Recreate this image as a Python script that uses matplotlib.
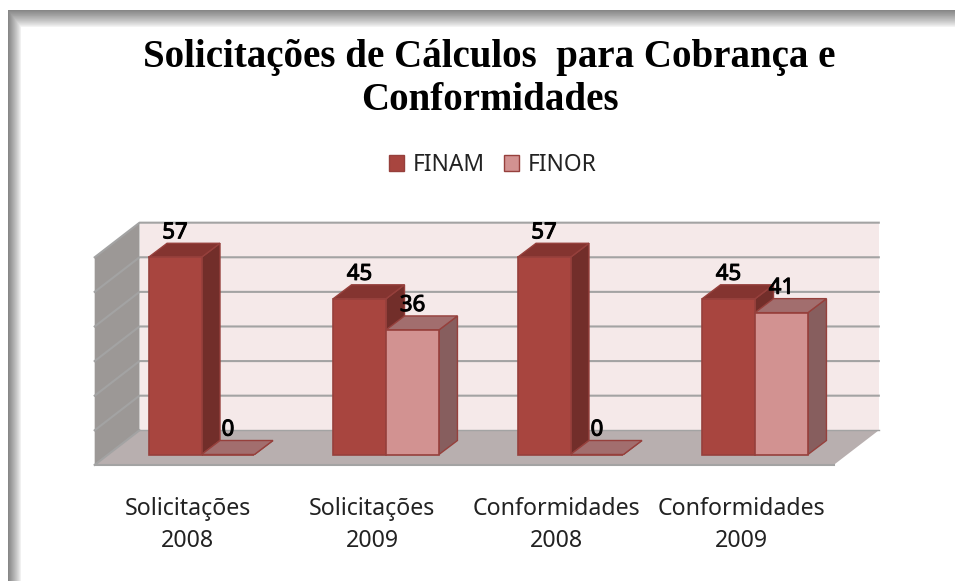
import numpy as np
import matplotlib
matplotlib.use('Agg')
import matplotlib.pyplot as plt
import matplotlib.patheffects as pe
from matplotlib.patches import Polygon, Patch

categorias = ['Solicitações\n2008', 'Solicitações\n2009', 'Conformidades\n2008', 'Conformidades\n2009']
finam = [57, 45, 57, 45]
finor = [0, 36, 0, 41]
ticks = [0, 10, 20, 30, 40, 50, 60]
titulo = 'Solicitações de Cálculos  para Cobrança e\nConformidades'

# cores
cor_finam = ['#A8453F', '#722E2A', '#843430']
cor_finor = ['#D29291', '#875E5E', '#A26E6E']
cor_borda = '#96403C'

W, H = 955, 581
fig = plt.figure(figsize=(W / 100, H / 100), dpi=100, facecolor='white')

# moldura cinza com degrade (esquerda e topo)
yy, xx = np.mgrid[0:H, 0:W]
a_esq = np.clip((21 - xx) / 13, 0, 1) ** 0.8
a_top = np.clip((27 - yy) / 17, 0, 1) ** 0.8
a = np.maximum(a_esq, a_top)
a[(xx < 8) | (yy < 10)] = 0
moldura = 1 - a * (1 - 0.53)
fig.figimage(moldura, cmap='gray', vmin=0, vmax=1, zorder=-1, origin='upper')

# eixo ocupa a figura: 1 unidade x = um grupo, y = valor do grafico
px_x, x0 = 184.5, 201.5
px_y, y0 = 3.46, 454.5
ax = fig.add_axes([0, 0, 1, 1], facecolor='none')
ax.set_xlim(-x0 / px_x, (W - x0) / px_x)
ax.set_ylim((y0 - H) / px_y, y0 / px_y)
ax.axis('off')

x = np.arange(len(categorias))
larg = 0.287
dx, dy = 18.5 / px_x, 14 / px_y      # profundidade das barras
fr_x, fr_y = -0.579, -3.0            # canto frontal do piso
fu_x, fu_y = -0.336, 7.0             # canto do fundo
fim_fr, fim_fu = 3.427, 3.671

# parede do fundo, parede lateral e piso
ax.add_patch(Polygon([(fu_x, fu_y), (fim_fu, fu_y), (fim_fu, fu_y + ticks[-1]), (fu_x, fu_y + ticks[-1])],
                     fc='#F5E9E9', ec='none', zorder=1))
ax.add_patch(Polygon([(fr_x, fr_y), (fu_x, fu_y), (fu_x, fu_y + ticks[-1]), (fr_x, fr_y + ticks[-1])],
                     fc='#9C9896', ec='none', zorder=1))
ax.add_patch(Polygon([(fr_x, fr_y), (fim_fr, fr_y), (fim_fu, fu_y), (fu_x, fu_y)],
                     fc='#B8AFAF', ec='none', zorder=1))
for t in ticks:
    ax.plot([fr_x, fu_x, fim_fu] if t > 0 else [fr_x, fu_x],
            [fr_y + t, fu_y + t, fu_y + t] if t > 0 else [fr_y, fu_y],
            color='#A3A3A3', lw=1.5, zorder=2)
ax.plot([fr_x, fim_fr], [fr_y, fr_y], color='#A3A3A3', lw=1.5, zorder=2)
ax.plot([fu_x, fim_fu], [fu_y, fu_y], color='#A3A3A3', lw=1, zorder=2)


def barra3d(xc, v, cores, z):
    e, d = xc - larg / 2, xc + larg / 2
    ax.bar(xc, v, larg, color=cores[0], edgecolor=cor_borda, linewidth=1.2, zorder=z + 0.2)
    ax.add_patch(Polygon([(d, 0), (d + dx, dy), (d + dx, v + dy), (d, v)],
                         fc=cores[1], ec=cor_borda, lw=1, zorder=z))
    ax.add_patch(Polygon([(e, v), (d, v), (d + dx, v + dy), (e + dx, v + dy)],
                         fc=cores[2], ec=cor_borda, lw=1, zorder=z + 0.1))
    # fonte sem peso bold instalado: engrossa com contorno
    ax.text(xc, v + dy + 3.0, str(v), ha='center', va='center', fontsize=16,
            fontfamily='Noto Sans', color='black', zorder=10,
            path_effects=[pe.withStroke(linewidth=0.7, foreground='black')])


for i in x:
    barra3d(i - larg / 2, finam[i], cor_finam, 3)
    barra3d(i + larg / 2, finor[i], cor_finor, 4)
    ax.text(i - 0.075, -20.4, categorias[i], ha='center', va='center', fontsize=16.7,
            fontfamily='Noto Sans', color='#222222', linespacing=1.42)

fig.text(489.5 / W, 1 - 79 / H, titulo, ha='center', va='center', fontsize=28,
         fontfamily='Liberation Serif', fontweight='bold', color='black', linespacing=1.25)

ax.legend(handles=[Patch(fc=cor_finam[0], ec=cor_borda, label='FINAM'),
                   Patch(fc=cor_finor[0], ec=cor_borda, label='FINOR')],
          ncol=2, frameon=False, loc='center', bbox_to_anchor=(493 / W, 1 - 165 / H),
          prop={'family': 'Noto Sans', 'size': 16.4}, handlelength=0.66, handleheight=0.68,
          handletextpad=0.38, columnspacing=0.85, labelcolor='#222222')

fig.savefig('out.png', dpi=100, facecolor='white')
